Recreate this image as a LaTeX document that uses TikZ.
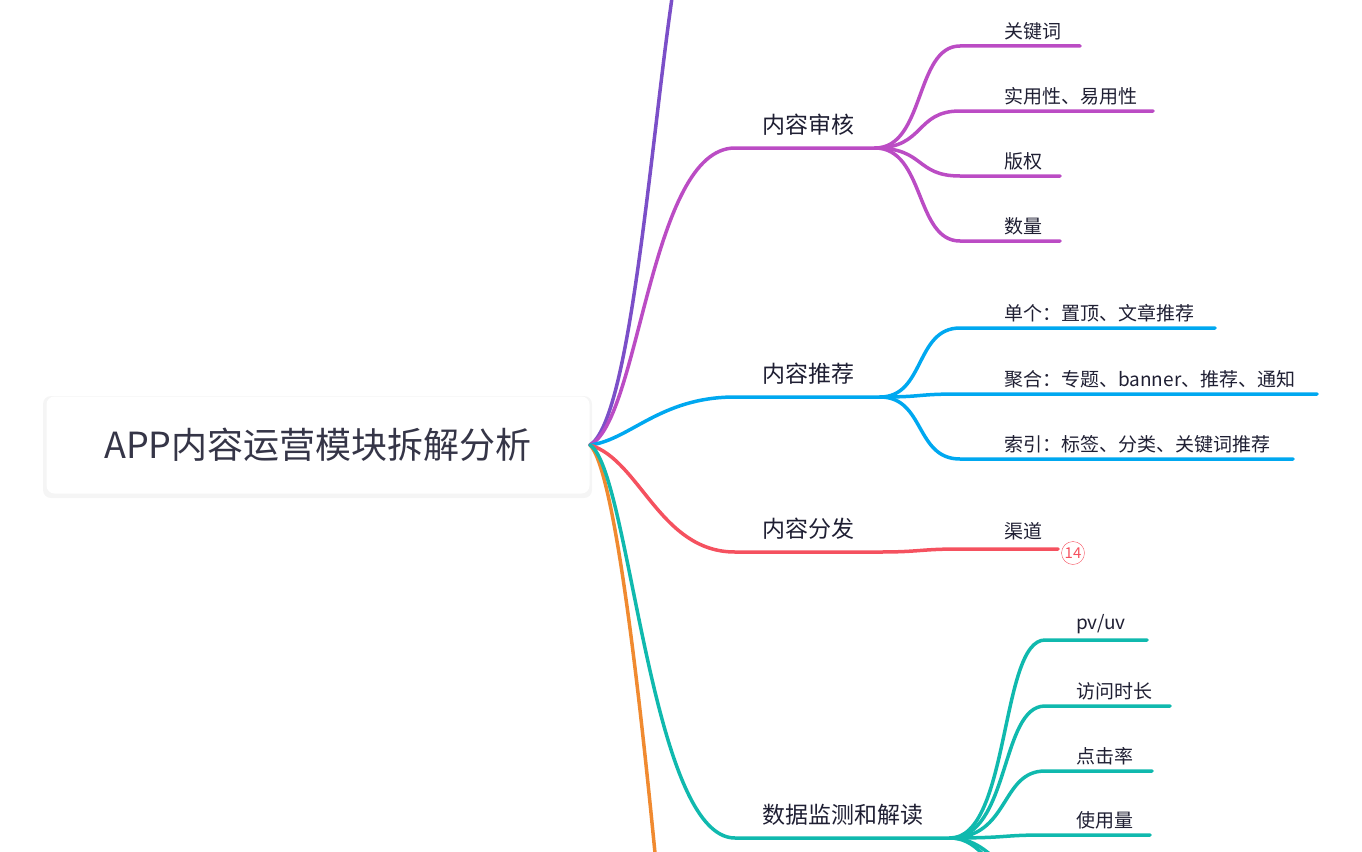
\documentclass[tikz,border=0pt]{standalone}
\usepackage{fontspec}
\setmainfont{Noto Sans CJK SC}
\definecolor{cpurple}{HTML}{7B4FC8}
\definecolor{cmagenta}{HTML}{BB4CC4}
\definecolor{cblue}{HTML}{00A8F0}
\definecolor{cred}{HTML}{F5515F}
\definecolor{cteal}{HTML}{10B9AE}
\definecolor{corange}{HTML}{F08A30}
\definecolor{ctext}{HTML}{1F1F33}
\tikzset{
  branch/.style={line width=3.5pt,line cap=round},
  topic/.style={anchor=south,inner sep=5pt,text=ctext,font=\fontsize{23}{26}\selectfont},
  leaf/.style={anchor=south west,inner sep=6pt,text=ctext,font=\fontsize{19}{22}\selectfont},
}
\begin{document}
\begin{tikzpicture}[x=1pt,y=-1pt]
\useasboundingbox (0,0) rectangle (1362,851);
% racine
\fill[black!4,rounded corners=8pt] (43,396) rectangle (592,498);
\node[fill=white,rounded corners=8pt,minimum width=543pt,minimum height=97pt,
  text=ctext!90,font=\fontsize{36}{42}\selectfont] (root) at (318,445) {APP内容运营模块拆解分析};
\coordinate (r) at (590,445);
% branches principales
\coordinate (top) at (672,-2);
\coordinate (bot) at (655,853);
\draw[branch,cpurple] (r) .. controls (630,420) and (650,150) .. (top);
\draw[branch,corange] (r) .. controls (615,470) and (640,700) .. (bot);
% contenu : audit
\coordinate (a0) at (735,148); \coordinate (a1) at (875,148);
\node[topic] (audit) at (808,141) {内容审核};
\draw[branch,cmagenta] (r) .. controls (640,420) and (650,148) .. (a0) -- (a1);
\foreach \y/\w/\t [count=\i] in {46/1080/关键词,111/1153/实用性、易用性,176/1060/版权,241/1060/数量}{
  \coordinate (s\i) at (960,\y); \coordinate (e\i) at (\w,\y);
  \node[leaf] (la\i) at (998,\y) {\t};
  \draw[branch,cmagenta] (a1) .. controls (925,148) and (915,\y) .. (s\i) -- (e\i);
}
% recommandation
\coordinate (b0) at (735,397); \coordinate (b1) at (880,397);
\node[topic] (reco) at (808,390) {内容推荐};
\draw[branch,cblue] (r) .. controls (630,440) and (660,397) .. (b0) -- (b1);
\foreach \y/\w/\t [count=\i] in {328/1215/单个：置顶、文章推荐,394/1317/聚合：专题、banner、推荐、通知,459/1293/索引：标签、分类、关键词推荐}{
  \coordinate (t\i) at (960,\y); \coordinate (f\i) at (\w,\y);
  \node[leaf] (lb\i) at (998,\y) {\t};
  \draw[branch,cblue] (b1) .. controls (925,397) and (915,\y) .. (t\i) -- (f\i);
}
% distribution
\coordinate (c0) at (735,552); \coordinate (c1) at (880,552);
\coordinate (c2) at (960,549); \coordinate (c3) at (1058,549);
\node[topic] (dist) at (808,545) {内容分发};
\node[leaf] (lc) at (998,546) {渠道};
\draw[branch,cred] (r) .. controls (640,460) and (660,552) .. (c0) -- (c1)
  .. controls (920,552) and (920,549) .. (c2) -- (c3);
\node[circle,draw=cred,text=cred,thin,inner sep=0.5pt,minimum size=23pt,
  font=\fontsize{15}{15}\selectfont] (n14) at (1073,553) {14};
% donnees
\coordinate (d0) at (735,838); \coordinate (d1) at (950,838);
\node[topic] (data) at (843,831) {数据监测和解读};
\draw[branch,cteal] (r) .. controls (630,470) and (650,838) .. (d0) -- (d1);
\foreach \y/\w/\t [count=\i] in {640/1147/{pv/uv},706/1170/访问时长,771/1152/点击率,835/1150/使用量}{
  \coordinate (u\i) at (1045,\y); \coordinate (v\i) at (\w,\y);
  \node[leaf] (ld\i) at (1070,\y) {\t};
  \draw[branch,cteal] (d1) .. controls (1010,838) and (1000,\y) .. (u\i) -- (v\i);
}
\coordinate (g1) at (1000,870); \coordinate (g2) at (1030,900);
\draw[branch,cteal] (d1) .. controls (975,838) and (985,860) .. (g1);
\draw[branch,cteal] (d1) .. controls (990,838) and (1010,880) .. (g2);
\end{tikzpicture}
\end{document}
